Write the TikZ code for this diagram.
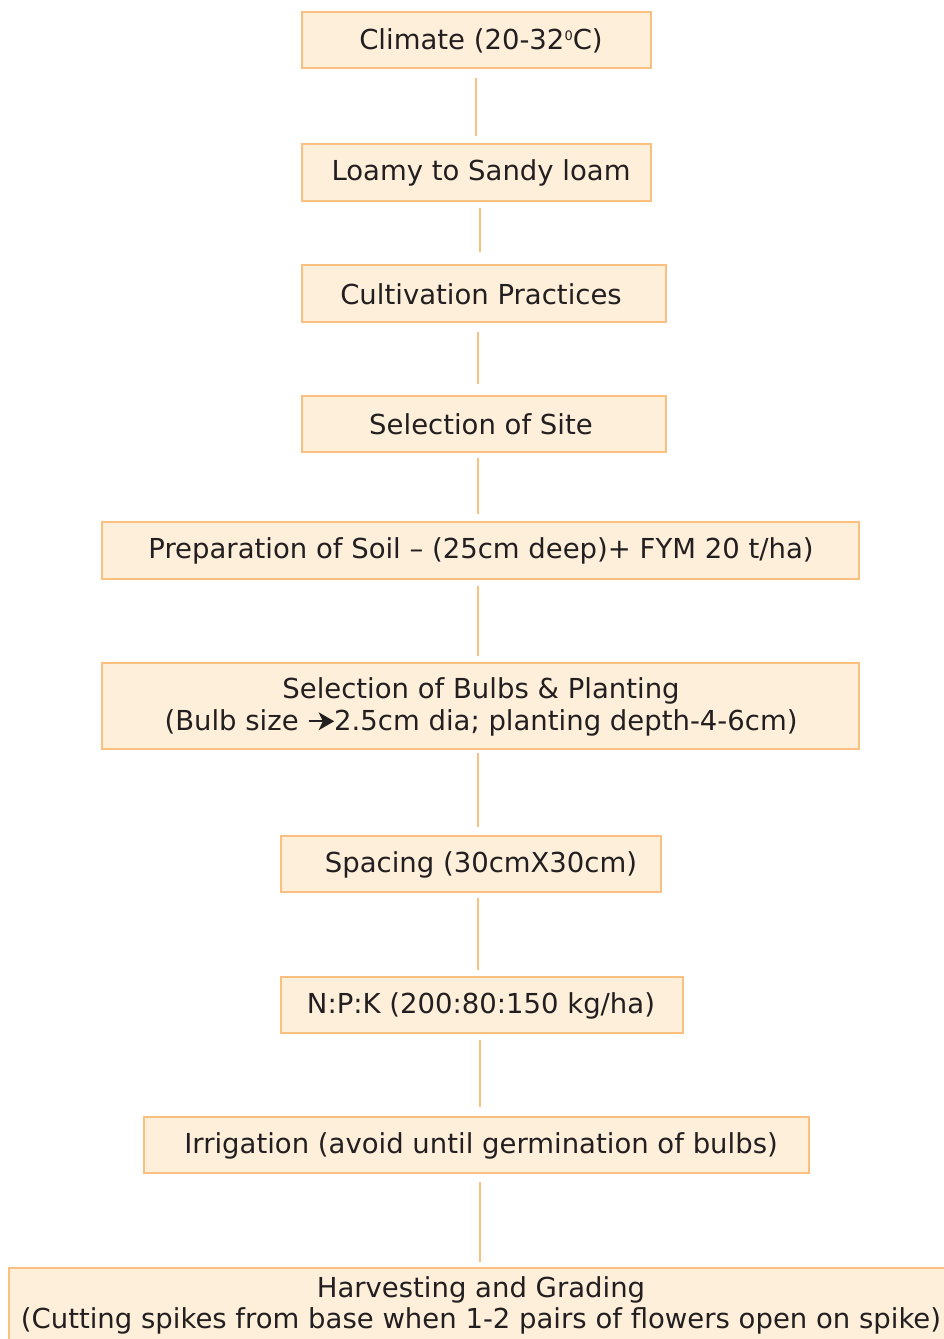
\documentclass[tikz,border=0pt]{standalone}
\usepackage{fontspec}
\setmainfont{DejaVu Sans}
\usetikzlibrary{calc}
\definecolor{boxfill}{RGB}{253,239,218}
\definecolor{boxline}{RGB}{251,192,128}
\definecolor{txtc}{RGB}{35,31,32}
\newcommand{\supzero}{\raisebox{9pt}{\fontsize{13}{13}\selectfont 0}}
\newcommand{\bulbarrow}{\tikz[baseline=0pt,x=1em,y=1em]{%
  \draw[txtc,line width=0.085em] (0,0.33) -- (0.55,0.33);
  \fill[txtc] (0.36,0.66) -- (0.93,0.33) -- (0.36,0.0) -- (0.52,0.33) -- cycle;}}
\begin{document}
\begin{tikzpicture}[x=1pt,y=-1pt,
  box/.style={draw=boxline,fill=boxfill,line width=1.4pt,inner sep=0pt},
  txt/.style={text=txtc,font=\fontsize{27.5}{31.5}\selectfont,align=center,inner sep=0pt},
  conn/.style={draw=boxline,line width=1.4pt}]
\useasboundingbox (0,0) rectangle (944,1339);
\clip (0,0) rectangle (944,1339);
% boxes
\node[box,minimum width=349,minimum height=56] (b1) at (476.5,40) {};
\node[box,minimum width=349,minimum height=57] (b2) at (476.5,172.5) {};
\node[box,minimum width=364,minimum height=57] (b3) at (484,293.5) {};
\node[box,minimum width=364,minimum height=56] (b4) at (484,424) {};
\node[box,minimum width=757,minimum height=57] (b5) at (480.5,550.5) {};
\node[box,minimum width=757,minimum height=86] (b6) at (480.5,706) {};
\node[box,minimum width=380,minimum height=56] (b7) at (471,864) {};
\node[box,minimum width=402,minimum height=56] (b8) at (482,1005) {};
\node[box,minimum width=665,minimum height=56] (b9) at (476.5,1145) {};
\node[box,minimum width=943,minimum height=82] (b10) at (480.5,1309) {};
% texts
\node[txt] (t1) at (481,40.5) {Climate (20-32\supzero C)};
\node[txt] (t2) at (481,172.5) {Loamy to Sandy loam};
\node[txt] (t3) at (481,294) {Cultivation Practices};
\node[txt] (t4) at (481,424) {Selection of Site};
\node[txt] (t5) at (481,551) {Preparation of Soil – (25cm deep)+ FYM 20 t/ha)};
\node[txt] (t6) at (481,707) {Selection of Bulbs \& Planting\\(Bulb size \bulbarrow2.5cm dia; planting depth-4-6cm)};
\node[txt] (t7) at (481,865) {Spacing (30cmX30cm)};
\node[txt] (t8) at (481,1005.5) {N:P:K (200:80:150 kg/ha)};
\node[txt] (t9) at (481,1146) {Irrigation (avoid until germination of bulbs)};
\node[txt] (t10) at (481,1305.5) {Harvesting and Grading\\(Cutting spikes from base when 1-2 pairs of flowers open on spike)};
% connectors
\draw[conn] ($(b1.south)+(-0.5,9)$) -- ($(b2.north)+(-0.5,-7)$);
\draw[conn] ($(b2.south)+(3.5,6)$) -- ($(b3.north)+(-4,-12)$);
\draw[conn] ($(b3.south)+(-6,9)$) -- ($(b4.north)+(-6,-11)$);
\draw[conn] ($(b4.south)+(-6,5)$) -- ($(b5.north)+(-2.5,-7)$);
\draw[conn] ($(b5.south)+(-2.5,6)$) -- ($(b6.north)+(-2.5,-6)$);
\draw[conn] ($(b6.south)+(-2.5,3)$) -- ($(b7.north)+(7,-8)$);
\draw[conn] ($(b7.south)+(7,5)$) -- ($(b8.north)+(-4,-6)$);
\draw[conn] ($(b8.south)+(-2,6)$) -- ($(b9.north)+(3.5,-9)$);
\draw[conn] ($(b9.south)+(3.5,8)$) -- ($(b10.north)+(-0.5,-5)$);
\end{tikzpicture}
\end{document}
